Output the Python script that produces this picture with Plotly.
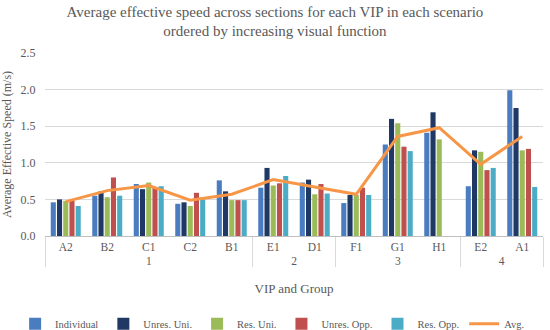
import plotly.graph_objects as go

groups = ["1", "1", "1", "1", "1", "2", "2", "3", "3", "3", "4", "4"]
vips = ["A2", "B2", "C1", "C2", "B1", "E1", "D1", "F1", "G1", "H1", "E2", "A1"]

individual = [0.46, 0.55, 0.71, 0.44, 0.76, 0.66, 0.73, 0.45, 1.25, 1.41, 0.68, 1.99]
unres_uni = [0.50, 0.61, 0.64, 0.46, 0.61, 0.93, 0.77, 0.56, 1.60, 1.69, 1.17, 1.75]
res_uni = [0.48, 0.53, 0.73, 0.41, 0.49, 0.69, 0.57, 0.56, 1.54, 1.32, 1.15, 1.17]
unres_opp = [0.48, 0.80, 0.66, 0.59, 0.49, 0.72, 0.71, 0.66, 1.22, None, 0.90, 1.19]
res_opp = [0.41, 0.55, 0.68, 0.50, 0.49, 0.82, 0.58, 0.56, 1.16, None, 0.93, 0.67]
avg = [0.47, 0.62, 0.69, 0.49, 0.57, 0.77, 0.67, 0.57, 1.36, 1.48, 0.98, 1.36]

series = [
    ("Individual", individual, "#4a7dc0"),
    ("Unres. Uni.", unres_uni, "#1f3864"),
    ("Res. Uni.", res_uni, "#9bbb59"),
    ("Unres. Opp.", unres_opp, "#c0504d"),
    ("Res. Opp.", res_opp, "#4bacc6"),
]

font_family = "Liberation Serif, Times New Roman, serif"
grey = "#595959"

fig = go.Figure()
for name, vals, col in series:
    fig.add_trace(go.Bar(x=[groups, vips], y=vals, name=name, marker_color=col,
                         marker_line_width=0))
fig.add_trace(go.Scatter(x=[groups, vips], y=avg, name="Avg.", mode="lines",
                         line=dict(color="#f79646", width=3)))

fig.update_layout(
    width=550, height=330,
    margin=dict(l=45, r=7, t=53, b=94, autoexpand=False),
    paper_bgcolor="white", plot_bgcolor="white",
    font=dict(family=font_family, color=grey, size=12),
    title=dict(text="Average effective speed across sections for each VIP in each scenario<br>ordered by increasing visual function",
               x=0.5, xanchor="center", xref="container", y=0.95, yanchor="top", yref="container",
               font=dict(family=font_family, size=15, color=grey)),
    barmode="group", bargap=0.25, bargroupgap=0.18,
    showlegend=True,
    legend=dict(orientation="h", x=-0.06, xanchor="left", xref="paper",
                y=-0.48, yanchor="middle", yref="paper",
                font=dict(family=font_family, size=10.5, color=grey),
                itemwidth=30, tracegroupgap=0),
    xaxis=dict(type="multicategory", range=[-0.5, 11.5],
               showline=True, linecolor="#bfbfbf", linewidth=1,
               showdividers=True, dividercolor="#d9d9d9", dividerwidth=1,
               ticks="", tickangle=0, automargin=False,
               tickfont=dict(family=font_family, size=11.5, color=grey),
               title=dict(text="VIP and Group", font=dict(family=font_family, size=13, color=grey), standoff=18),
               showgrid=False),
    yaxis=dict(range=[0, 2.5], dtick=0.5, tickformat=".1f", showgrid=True,
               gridcolor="#d9d9d9", gridwidth=1, zeroline=False, showline=False,
               ticks="outside", ticklen=6, tickcolor="rgba(0,0,0,0)", automargin=False,
               tickfont=dict(family=font_family, size=12, color=grey),
               title=dict(text="Average Effective Speed (m/s)", font=dict(family=font_family, size=12, color=grey), standoff=6)),
)

fig.write_html("out.html", config={"displayModeBar": False},
               post_script="document.body.style.margin='0';")
